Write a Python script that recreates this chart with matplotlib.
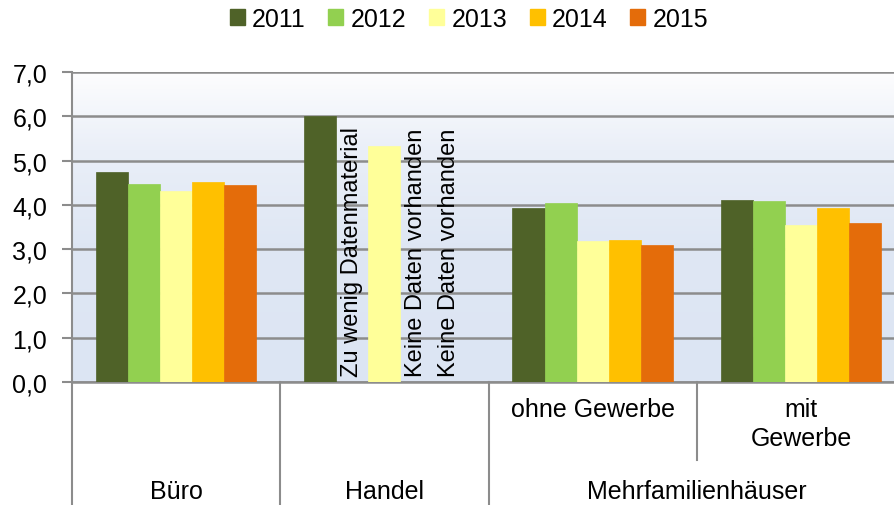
import numpy as np
import matplotlib.pyplot as plt
from matplotlib.colors import LinearSegmentedColormap
from matplotlib.patches import Patch
import matplotlib.transforms as mtransforms

plt.rcParams['font.family'] = ['Liberation Sans', 'DejaVu Sans']

years = ['2011', '2012', '2013', '2014', '2015']
colors = ['#4f6228', '#92d050', '#ffff99', '#ffc000', '#e46c0a']

# values per category, one entry per year (nan = no bar)
buero = [4.74, 4.48, 4.32, 4.51, 4.45]
handel = [6.0, np.nan, 5.32, np.nan, np.nan]
mfh_ohne = [3.93, 4.05, 3.18, 3.20, 3.10]
mfh_mit = [4.11, 4.08, 3.54, 3.92, 3.59]

handel_notes = {1: 'Zu wenig Datenmaterial',
                3: 'Keine Daten vorhanden',
                4: 'Keine Daten vorhanden'}

sub_labels = ['', '', 'ohne Gewerbe', 'mit\nGewerbe']
main_labels = ['Büro', 'Handel', 'Mehrfamilienhäuser']
main_pos = [0, 1, 2.5]

values = np.array([buero, handel, mfh_ohne, mfh_mit])

fig = plt.figure(figsize=(8.94, 5.06), dpi=100)
ax = fig.add_axes([72 / 894, 123 / 506, 833 / 894, 310 / 506])

# background gradient: light blue at the bottom fading to white at the top
grad = LinearSegmentedColormap.from_list(
    'bg', [(0, '#dce5f3'), (0.45, '#dfe7f4'), (0.75, '#eaeff8'), (1, '#fdfdfe')])
ax.imshow(np.linspace(0, 1, 256).reshape(-1, 1), aspect='auto', cmap=grad,
          origin='lower', extent=[-0.5, 3.5, 0, 7], zorder=0)

x = np.arange(4)
w = 0.154
for i, (yr, c) in enumerate(zip(years, colors)):
    ax.bar(x + (i - 2) * w, values[:, i], width=w, color=c, zorder=3,
           edgecolor=c, linewidth=0.5)

for i, note in handel_notes.items():
    ax.text(1 + (i - 2) * w, 0.14, note, rotation=90, ha='center', va='bottom',
            fontsize=17, zorder=4)

ax.set_xlim(-0.5, 3.5)
ax.set_ylim(0, 7)
ticks = np.arange(0, 7.1, 1)
ax.set_yticks(ticks)
ax.set_yticklabels([f'{v:.1f}'.replace('.', ',') for v in ticks], fontsize=18)
ax.set_xticks([])
ax.yaxis.grid(True, color='#8c8c8c', linewidth=1.8, zorder=1)
ax.set_axisbelow(True)
ax.tick_params(axis='y', length=7, width=1.5, color='#8c8c8c', pad=11)
for s in ['top', 'right']:
    ax.spines[s].set_visible(False)
ax.spines['left'].set_color('#8c8c8c')
ax.spines['left'].set_linewidth(1.5)
ax.spines['bottom'].set_color('#8c8c8c')
ax.spines['bottom'].set_linewidth(1.8)

# category axis below the plot
trans = mtransforms.blended_transform_factory(ax.transData, fig.transFigure)
for xs in [-0.5, 0.5, 1.5]:
    ax.plot([xs, xs], [123 / 506, 0], transform=trans, color='#8c8c8c',
            linewidth=1.5, clip_on=False)
ax.plot([2.5, 2.5], [123 / 506, 45 / 506], transform=trans, color='#8c8c8c',
        linewidth=1.5, clip_on=False)

for xi, lab in zip(x, sub_labels):
    if lab:
        ax.text(xi, 1 - 398 / 506, lab, transform=trans, ha='center', va='top',
                fontsize=18, linespacing=1.25)
for xi, lab in zip(main_pos, main_labels):
    ax.text(xi, 1 - 492 / 506, lab, transform=trans, ha='center', va='center', fontsize=18)

handles = [Patch(facecolor=c, edgecolor=c) for c in colors]
fig.legend(handles, years, loc='center', bbox_to_anchor=(469 / 894, 1 - 20 / 506),
           ncol=5, frameon=False, fontsize=18, handlelength=0.6, handleheight=0.6,
           handletextpad=0.3, columnspacing=0.9)

fig.savefig('out.png', dpi=100)
